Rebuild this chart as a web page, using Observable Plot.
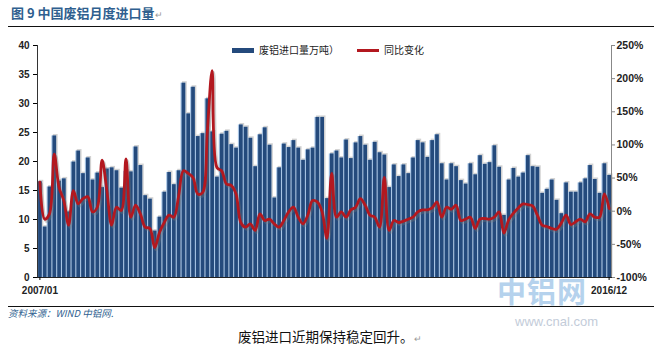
<!DOCTYPE html>
<html><head><meta charset="utf-8">
<script src="https://cdn.jsdelivr.net/npm/d3@7"></script>
<script src="https://cdn.jsdelivr.net/npm/@observablehq/plot@0.6"></script>
<style>
html,body{margin:0;padding:0;background:#fff;}
body{width:654px;height:352px;position:relative;overflow:hidden;font-family:"Noto Sans CJK SC","Noto Sans",sans-serif;}
.abs{position:absolute;white-space:nowrap;line-height:1;}
.hr{position:absolute;left:8px;right:0;height:0;border-top:1px solid #111;}
#title{left:11px;top:6px;font-size:13px;font-weight:700;color:#2f5f8f;}
.ret{font-size:9px;color:#999;font-weight:400;}
#chart{position:absolute;left:0;top:0;z-index:2;}
#legend{left:232px;top:45px;font-size:10px;color:#222;z-index:3;}
.sw{display:inline-block;vertical-align:middle;width:22px;margin-right:5px;position:relative;top:-1px;}
#source{left:8px;top:309px;font-size:9.5px;font-style:italic;color:#2f5f8f;}
#caption{left:238px;top:330px;font-size:13.5px;color:#111;}
#wm1{left:497px;top:276px;font-size:29px;font-weight:700;color:#a9cbea;opacity:0.85;letter-spacing:1px;z-index:1;}
#wm2{left:515px;top:315px;font-size:13px;color:#c3ccd9;font-family:"Liberation Sans",sans-serif;}
</style></head><body>
<div id="chart"></div>
<div id="title" class="abs">图 9 中国废铝月度进口量<span class="ret">↵</span></div>
<div class="hr" style="top:26px"></div>
<div id="legend" class="abs"><span class="sw" style="height:4.5px;background:#244a7c"></span>废铝进口量万吨）<span style="display:inline-block;width:18px"></span><span class="sw" style="height:2.5px;background:#b3181f"></span>同比变化</div>
<div id="wm1" class="abs">中铝网</div>
<div class="hr" style="top:306px"></div>
<div id="wm2" class="abs">www.cnal.com</div>
<div id="source" class="abs">资料来源：WIND 中铝网.</div>
<div id="caption" class="abs">废铝进口近期保持稳定回升。<span class="ret">↵</span></div>
<script>
// categories: monthly, 2007/01 .. 2016/12
const years = [2007,2008,2009,2010,2011,2012,2013,2014,2015,2016];
const monthsOfYear = ["01","02","03","04","05","06","07","08","09","10","11","12"];
const months = years.flatMap(y => monthsOfYear.map(m => `${y}/${m}`));

// 废铝进口量 (万吨)
const volume = [
  16.5, 8.7, 15.6, 24.4, 16.6, 17.0, 11.3, 19.9, 21.8, 17.9, 20.6, 16.8,
  18.0, 15.5, 18.7, 18.9, 18.4, 15.4, 18.3, 18.2, 22.5, 19.3, 14.1, 13.5,
  8.0, 10.4, 14.7, 18.1, 16.0, 18.4, 33.5, 28.2, 32.8, 24.3, 24.8, 30.8,
  25.1, 17.3, 24.7, 25.2, 22.9, 22.3, 26.3, 25.9, 24.0, 19.1, 24.6, 25.8,
  22.8, 13.7, 18.9, 23.0, 22.4, 23.6, 22.3, 20.2, 22.0, 22.3, 27.6, 27.6,
  13.6, 21.3, 21.8, 20.6, 23.7, 20.5, 23.2, 24.3, 22.8, 20.2, 23.3, 21.5,
  21.1, 15.5, 19.4, 17.4, 19.4, 17.9, 20.6, 23.6, 23.2, 20.7, 23.6, 24.6,
  19.6, 16.8, 19.6, 19.1, 16.7, 16.1, 19.6, 17.7, 21.0, 19.5, 19.8, 22.7,
  19.0, 10.7, 16.8, 18.8, 17.3, 18.0, 21.0, 19.1, 19.0, 14.5, 15.2, 16.8,
  13.3, 11.0, 16.3, 14.7, 14.7, 16.3, 17.0, 19.3, 16.9, 14.5, 19.6, 17.6
];

// 同比变化 (%)
const yoy = [
  44, -12, -4, 86, 36, 16, -21, 31, 11, 19, 22, -1,
  6, 77, 31, -21, 6, 1, 79, -9, 9, -4, -24, -26,
  -55, -32, -17, -6, -9, 23, 61, 57, 51, 26, 28, 120,
  212, 66, 61, 41, 39, 26, -17, -24, -19, -29, -4, -14,
  -12, -19, -24, -14, -1, 6, -9, -19, -6, 16, 14, -1,
  -41, 57, -9, -1, -9, 2, 6, 19, 9, -6, -9, -24,
  51, -29, -14, -17, -15, -12, -9, -1, 2, 2, 5, 14,
  -9, 6, 3, 9, -14, -12, -9, -26, -12, -11, -12, -9,
  -1, -33, -13, -3, 5, 11, 10, 8, -6, -21, -23, -26,
  -27, -18, -6, -20, -16, -12, -16, -4, -9, -9, 26, 4
];

const leftTicks = [0, 5, 10, 15, 20, 25, 30, 35, 40];
const rightTicks = [-100, -50, 0, 50, 100, 150, 200, 250];
const xTicks = ["2007/01", "2016/12"];

// right axis (%) shares the left y scale: -100%..250% <-> 0..40
const pctMin = -100, pctMax = 250, leftMax = 40;
const toLeft = p => (p - pctMin) / (pctMax - pctMin) * leftMax;
const toPct = v => v / leftMax * (pctMax - pctMin) + pctMin;

const data = months.map((m, i) => ({m, v: volume[i], p: yoy[i]}));

const axisFont = "Liberation Sans, Arial, sans-serif";

const chart = Plot.plot({
  width: 654,
  height: 300,
  marginTop: 45,
  marginBottom: 23,
  marginLeft: 37,
  marginRight: 43,
  style: {fontFamily: axisFont, background: "transparent", overflow: "visible"},
  x: {type: "band", domain: months, padding: 0},
  y: {domain: [0, 40]},
  marks: [
    Plot.barY(data, {x: "m", y: "v", fill: "#d2d2d2", dx: 1.5, dy: -1.5}),
    Plot.barY(data, {x: "m", y: "v", fill: "#a9c6e6"}),
    Plot.barY(data, {x: "m", y: "v", fill: "#244a7c", insetLeft: 1.1}),
    Plot.line(data, {x: "m", y: d => toLeft(d.p), stroke: "#777", strokeOpacity: 0.35, strokeWidth: 3.2, dx: 1.5, dy: 2, curve: "catmull-rom"}),
    Plot.line(data, {x: "m", y: d => toLeft(d.p), stroke: "#b3181f", strokeWidth: 2.8, curve: "catmull-rom", strokeLinejoin: "round"}),
    Plot.frame({anchor: "left", stroke: "#333"}),
    Plot.frame({anchor: "right", stroke: "#888"}),
    Plot.frame({anchor: "bottom", stroke: "#222"}),
    Plot.axisY({anchor: "left", ticks: leftTicks, tickSize: 4, tickPadding: 4, fontSize: 10, fontWeight: "bold", fill: "#222", label: null}),
    Plot.axisY({anchor: "right", ticks: rightTicks.map(toLeft), tickFormat: d => Math.round(toPct(d)) + "%", tickSize: 3, tickPadding: 2, fontSize: 10.5, fontWeight: "bold", fill: "#222", stroke: "#888", label: null}),
    Plot.axisX({ticks: xTicks, tickSize: 3, tickPadding: 6, fontSize: 10, fontWeight: "bold", fill: "#222", label: null})
  ]
});
document.getElementById("chart").appendChild(chart);
</script>
</body></html>
